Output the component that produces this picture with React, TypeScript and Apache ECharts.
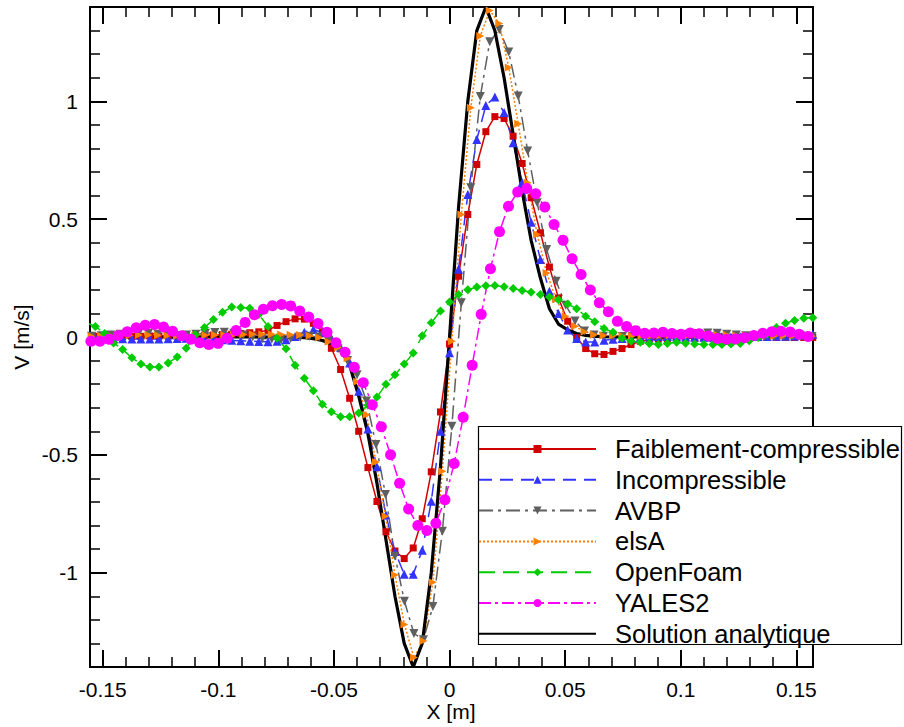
import { useEffect, useRef } from "react";
import * as echarts from "echarts";

// Sampling abscissae (m)
const X_MAIN = [
  -0.1571, -0.1532, -0.1492, -0.1453, -0.1414, -0.1374, -0.1335, -0.1296, -0.1257, -0.1217,
  -0.1178, -0.1139, -0.11, -0.106, -0.1021, -0.0982, -0.0942, -0.0903, -0.0864, -0.0825,
  -0.0785, -0.0746, -0.0707, -0.0668, -0.0628, -0.0589, -0.055, -0.0511, -0.0471, -0.0432,
  -0.0393, -0.0353, -0.0314, -0.0275, -0.0236, -0.0196, -0.0157, -0.0118, -0.0079, -0.0039,
  0,
  0.0039, 0.0079, 0.0118, 0.0157, 0.0196, 0.0236, 0.0275, 0.0314, 0.0353, 0.0393,
  0.0432, 0.0471, 0.0511, 0.055, 0.0589, 0.0628, 0.0668, 0.0707, 0.0746, 0.0785,
  0.0825, 0.0864, 0.0903, 0.0942, 0.0982, 0.1021, 0.106, 0.11, 0.1139, 0.1178,
  0.1217, 0.1257, 0.1296, 0.1335, 0.1374, 0.1414, 0.1453, 0.1492, 0.1532, 0.1571,
];
const X_HALF = [
  -0.1551, -0.1512, -0.1473, -0.1433, -0.1394, -0.1355, -0.1316, -0.1276, -0.1237, -0.1198,
  -0.1158, -0.1119, -0.108, -0.1041, -0.1001, -0.0962, -0.0923, -0.0884, -0.0844, -0.0805,
  -0.0766, -0.0726, -0.0687, -0.0648, -0.0609, -0.0569, -0.053, -0.0491, -0.0452, -0.0412,
  -0.0373, -0.0334, -0.0295, -0.0255, -0.0216, -0.0177, -0.0137, -0.0098, -0.0059, -0.002,
  0.002, 0.0059, 0.0098, 0.0137, 0.0177, 0.0216, 0.0255, 0.0295, 0.0334, 0.0373,
  0.0412, 0.0452, 0.0491, 0.053, 0.0569, 0.0609, 0.0648, 0.0687, 0.0726, 0.0766,
  0.0805, 0.0844, 0.0884, 0.0923, 0.0962, 0.1001, 0.1041, 0.108, 0.1119, 0.1158,
  0.1198, 0.1237, 0.1276, 0.1316, 0.1355, 0.1394, 0.1433, 0.1473, 0.1512, 0.1551,
];
const X_AVBP = [
  -0.1548, -0.1507, -0.1466, -0.1425, -0.1384, -0.1343, -0.1302, -0.1261, -0.122, -0.1179,
  -0.1138, -0.1097, -0.1056, -0.1015, -0.0974, -0.0933, -0.0892, -0.0851, -0.081, -0.0769,
  -0.0728, -0.0687, -0.0646, -0.0605, -0.0564, -0.0523, -0.0482, -0.0441, -0.04, -0.0359,
  -0.0318, -0.0277, -0.0236, -0.0195, -0.0154, -0.0113, -0.0072, -0.0031,
  0.001,
  0.0051, 0.0092, 0.0133, 0.0174, 0.0215, 0.0256, 0.0297, 0.0338, 0.0379, 0.042,
  0.0461, 0.0502, 0.0543, 0.0584, 0.0625, 0.0666, 0.0707, 0.0748, 0.0789, 0.083,
  0.0871, 0.0912, 0.0953, 0.0994, 0.1035, 0.1076, 0.1117, 0.1158, 0.1199, 0.124,
  0.1281, 0.1322, 0.1363, 0.1404, 0.1445, 0.1486, 0.1527, 0.1568,
];

// Velocity V (m/s)
const FAIBLEMENT = [
  0.002, 0.003, 0.003, 0.002, 0.002, 0.003, 0.003, 0.004, 0.004, 0.004,
  0.005, 0.006, 0.006, 0.007, 0.008, 0.01, 0.012, 0.015, 0.018, 0.022,
  0.028, 0.049, 0.065, 0.077, 0.076, 0.058, 0.022, -0.048, -0.138, -0.26,
  -0.4, -0.554, -0.698, -0.826, -0.908, -0.94, -0.895, -0.771, -0.572, -0.318,
  -0.03,
  0.258, 0.52, 0.732, 0.871, 0.935, 0.927, 0.852, 0.736, 0.591, 0.442,
  0.297, 0.166, 0.067, -0.003, -0.049, -0.071, -0.074, -0.061, -0.049, -0.032,
  -0.018, -0.012, -0.009, -0.007, -0.006, -0.005, -0.005, -0.004, -0.004, -0.003,
  -0.003, -0.003, -0.002, -0.002, -0.002, -0.002, -0.002, -0.002, -0.002, -0.002,
];
const INCOMPRESSIBLE = [
  -0.003, -0.004, -0.005, -0.006, -0.007, -0.008, -0.008, -0.008, -0.008, -0.007,
  -0.006, -0.005, -0.006, -0.008, -0.01, -0.012, -0.014, -0.016, -0.018, -0.019,
  -0.02, -0.018, -0.012, 0.002, 0.02, 0.032, 0.018, -0.005, -0.045, -0.11,
  -0.23, -0.39, -0.55, -0.755, -0.91, -1.006, -1.006, -0.905, -0.697, -0.4,
  -0.067,
  0.287, 0.605, 0.838, 0.982, 1.018, 0.952, 0.824, 0.655, 0.487, 0.329,
  0.194, 0.1, 0.03, -0.006, -0.021, -0.021, -0.014, -0.01, -0.006, -0.003,
  -0.001, 0.001, 0.002, 0.002, 0.001, 0.0, 0.0, -0.001, -0.001, 0.0,
  0.0, 0.001, 0.001, 0.002, 0.002, 0.003, 0.003, 0.004, 0.008, 0.012,
];
const AVBP = [
  0.003, 0.005, 0.008, 0.012, 0.016, 0.018, 0.016, 0.012, 0.008, 0.005,
  0.008, 0.012, 0.016, 0.019, 0.02, 0.016, 0.008, 0.0, -0.006, -0.01,
  -0.01, -0.006, 0.0, 0.003, 0.0, -0.015, -0.05, -0.1, -0.16, -0.272,
  -0.456, -0.668, -0.93, -1.121, -1.258, -1.284, -1.143, -0.824,
  -0.379,
  0.145, 0.633, 1.02, 1.253, 1.305, 1.209, 1.022, 0.789, 0.57, 0.371,
  0.237, 0.135, 0.068, 0.025, 0.008, 0.003, 0.002, 0.002, 0.003, 0.004,
  0.005, 0.006, 0.008, 0.01, 0.012, 0.015, 0.017, 0.016, 0.012, 0.008,
  0.005, 0.003, 0.002, 0.002, 0.003, 0.004, 0.003, 0.002,
];
const ELSA = [
  0.003, 0.004, 0.005, 0.006, 0.007, 0.008, 0.008, 0.007, 0.006, 0.005,
  0.005, 0.006, 0.007, 0.008, 0.009, 0.01, 0.011, 0.012, 0.012, 0.012,
  0.011, 0.01, 0.008, 0.005, -0.002,
  -0.02, -0.045, -0.09, -0.19, -0.33, -0.53, -0.76, -1.01, -1.22, -1.36, -1.29, -1.04, -0.57,
  -0.018,
  0.52, 0.973, 1.277, 1.385, 1.33, 1.143, 0.905, 0.654, 0.435, 0.272,
  0.16, 0.088, 0.046, 0.022, 0.01, 0.006,
  0.005, 0.004, 0.004, 0.004, 0.005, 0.006, 0.007, 0.008, 0.009, 0.01,
  0.01, 0.009, 0.008, 0.006, 0.005, 0.004, 0.004, 0.004, 0.005, 0.005, 0.004, 0.003,
];
const OPENFOAM = [
  0.06, 0.045, 0.015, -0.025, -0.053, -0.088, -0.115, -0.127, -0.127, -0.11,
  -0.085, -0.048, 0.01, 0.04, 0.074, 0.105, 0.127, 0.125, 0.122, 0.095,
  0.045, -0.005, -0.05, -0.12, -0.175, -0.228, -0.285, -0.317, -0.338, -0.338,
  -0.322, -0.29, -0.255, -0.2, -0.16, -0.115, -0.068, 0.005, 0.06, 0.11,
  0.148,
  0.18, 0.2, 0.212, 0.217, 0.218, 0.213, 0.206, 0.197, 0.19, 0.18,
  0.17, 0.158, 0.14, 0.12, 0.088, 0.065, 0.036, 0.02, -0.005, -0.018,
  -0.022, -0.028, -0.032, -0.028, -0.022, -0.027, -0.03, -0.032, -0.032, -0.032,
  -0.03, -0.028, -0.016, -0.002, 0.012, 0.04, 0.058, 0.07, 0.08, 0.082,
];
const YALES2 = [
  -0.018, -0.018, -0.01, 0.006, 0.022, 0.039, 0.05, 0.053, 0.042, 0.024,
  0.005, -0.01, -0.024, -0.032, -0.027, -0.005, 0.028, 0.062, 0.094, 0.118,
  0.133, 0.138, 0.132, 0.11, 0.085, 0.057, 0.02, -0.024, -0.065, -0.128,
  -0.194, -0.287, -0.381, -0.5, -0.62, -0.73, -0.8, -0.821, -0.79, -0.69,
  -0.537, -0.34, -0.12, 0.096, 0.29, 0.447, 0.555, 0.615, 0.63, 0.608,
  0.552, 0.477, 0.41, 0.332, 0.265, 0.199, 0.145, 0.107, 0.067, 0.045,
  0.027, 0.016, 0.017, 0.02, 0.015, 0.012, 0.017, 0.014, 0.004, -0.006,
  -0.01, -0.008, -0.003, 0.006, 0.016, 0.022, 0.024, 0.021, 0.012, 0.002,
];
const ANALYTIQUE = [
  0, 0, 0, 0, 0, 0, 0, 0, 0, 0,
  0, 0, 0, 0, 0, 0, 0, 0, 0, 0,
  0, 0, 0, -0.001, -0.003, -0.007, -0.015, -0.03, -0.055, -0.12,
  -0.25, -0.41, -0.62, -0.86, -1.1, -1.3, -1.4, -1.3, -1.0, -0.55,
  0,
  0.55, 1.0, 1.3, 1.4, 1.3, 1.1, 0.86, 0.62, 0.41, 0.25,
  0.12, 0.055, 0.03, 0.015, 0.007, 0.003, 0.001, 0, 0, 0,
  0, 0, 0, 0, 0, 0, 0, 0, 0, 0,
  0, 0, 0, 0, 0, 0, 0, 0, 0, 0,
];

const NAMES = [
  "Faiblement-compressible",
  "Incompressible",
  "AVBP",
  "elsA",
  "OpenFoam",
  "YALES2",
  "Solution analytique",
];

const X_TICKS = [-0.15, -0.1, -0.05, 0, 0.05, 0.1, 0.15];
const Y_TICKS = [-1, -0.5, 0, 0.5, 1];
const X_MIN = -0.1555;
const X_MAX = 0.1572;
const Y_MIN = -1.4;
const Y_MAX = 1.4;

const X_MINOR: number[] = [];
for (let k = -15; k <= 15; k++) X_MINOR.push(Math.round(k * 100) / 10000);
const Y_MINOR: number[] = [];
for (let k = -14; k <= 14; k++) Y_MINOR.push(Math.round(k * 10) / 100);

const FONT = "'Liberation Sans', Arial, Helvetica, sans-serif";

const zip = (xs: number[], ys: number[]) => xs.map((x, k) => [x, ys[k]]);

function buildOption() {
  const axisLine = { show: true, onZero: false, lineStyle: { color: "#000", width: 2 } };
  const major = (vals: number[]) => ({
    show: true,
    inside: true,
    length: 17,
    customValues: vals,
    lineStyle: { color: "#000", width: 2 },
  });
  const minor = (vals: number[]) => ({
    show: true,
    inside: true,
    length: 10,
    customValues: vals,
    lineStyle: { color: "#000", width: 1.5 },
  });
  const xBase = { type: "value", min: X_MIN, max: X_MAX, splitLine: { show: false }, axisLine };
  const yBase = { type: "value", min: Y_MIN, max: Y_MAX, splitLine: { show: false }, axisLine };
  const label = (vals: number[]) => ({
    show: true,
    customValues: vals,
    margin: 12,
    fontSize: 21,
    color: "#000",
    fontFamily: FONT,
    formatter: (v: number) => String(v),
  });
  const noLabel = { show: false };

  const mk = (
    name: string,
    data: number[][],
    color: string,
    type: any,
    symbol: string,
    size: number,
    rotate: number,
    width: number
  ) => ({
    name,
    type: "line",
    data,
    xAxisIndex: 0,
    yAxisIndex: 0,
    symbol,
    symbolSize: size,
    symbolRotate: rotate,
    showSymbol: symbol !== "none",
    itemStyle: { color },
    lineStyle: { color, width, type },
    emphasis: { disabled: true },
  });

  return {
    animation: false,
    backgroundColor: "#fff",
    grid: { left: 90, right: 91, top: 7, bottom: 60, containLabel: false },
    xAxis: [
      { ...xBase, position: "bottom", axisTick: major(X_TICKS), axisLabel: label(X_TICKS) },
      { ...xBase, position: "bottom", axisTick: minor(X_MINOR), axisLabel: noLabel },
      { ...xBase, position: "top", axisTick: major(X_TICKS), axisLabel: noLabel },
      { ...xBase, position: "top", axisTick: minor(X_MINOR), axisLabel: noLabel },
    ],
    yAxis: [
      { ...yBase, position: "left", axisTick: major(Y_TICKS), axisLabel: label(Y_TICKS) },
      { ...yBase, position: "left", axisTick: minor(Y_MINOR), axisLabel: noLabel },
      { ...yBase, position: "right", axisTick: major(Y_TICKS), axisLabel: noLabel },
      { ...yBase, position: "right", axisTick: minor(Y_MINOR), axisLabel: noLabel },
    ],
    legend: {
      orient: "vertical",
      left: 478,
      top: 433.6,
      padding: 0,
      itemGap: 0,
      itemWidth: 117,
      itemHeight: 10,
      z: 10,
      textStyle: {
        fontSize: 25.5,
        fontFamily: FONT,
        color: "#000",
        lineHeight: 30.8,
        padding: [0, 0, 0, 14],
      },
      data: NAMES.map((n, k) =>
        k === 6 ? { name: n, itemStyle: { opacity: 0 } } : { name: n }
      ),
      selectedMode: false,
    },
    graphic: [
      {
        type: "rect",
        z: 8,
        shape: { x: 478.5, y: 426.5, width: 423, height: 218 },
        style: { fill: "#fff", stroke: "#000", lineWidth: 1.2 },
      },
      {
        type: "text",
        x: 451,
        y: 711,
        style: {
          text: "X [m]",
          fontSize: 21,
          fontFamily: FONT,
          fill: "#000",
          textAlign: "center",
          textVerticalAlign: "middle",
        },
      },
      {
        type: "text",
        x: 21,
        y: 337,
        rotation: Math.PI / 2,
        style: {
          text: "V [m/s]",
          fontSize: 21,
          fontFamily: FONT,
          fill: "#000",
          textAlign: "center",
          textVerticalAlign: "middle",
        },
      },
    ],
    series: [
      mk(NAMES[0], zip(X_MAIN, FAIBLEMENT), "#d00000", "solid", "rect", 7, 0, 1.5),
      mk(NAMES[1], zip(X_MAIN, INCOMPRESSIBLE), "#3333ff", [13, 8], "triangle", 9, 0, 1.5),
      mk(NAMES[2], zip(X_AVBP, AVBP), "#5f5f5f", [14, 5, 3, 5], "triangle", 9, 180, 1.5),
      mk(NAMES[3], zip(X_AVBP, ELSA), "#ff8000", [2, 2], "triangle", 8, -90, 1.5),
      mk(NAMES[4], zip(X_MAIN, OPENFOAM), "#00cc00", [16, 8], "diamond", 9, 0, 1.5),
      mk(NAMES[5], zip(X_HALF, YALES2), "#ff00ff", [12, 4, 3, 4], "circle", 11, 0, 1.5),
      mk(NAMES[6], zip(X_MAIN, ANALYTIQUE), "#000000", "solid", "none", 0, 0, 3.2),
    ],
  };
}

export default function App() {
  const ref = useRef<HTMLDivElement>(null);
  useEffect(() => {
    const chart = echarts.init(ref.current!, null, { renderer: "svg" });
    chart.setOption(buildOption() as any);
    return () => chart.dispose();
  }, []);
  return (
    <div
      ref={ref}
      style={{ position: "absolute", left: 0, top: 0, width: 904, height: 727 }}
    />
  );
}
